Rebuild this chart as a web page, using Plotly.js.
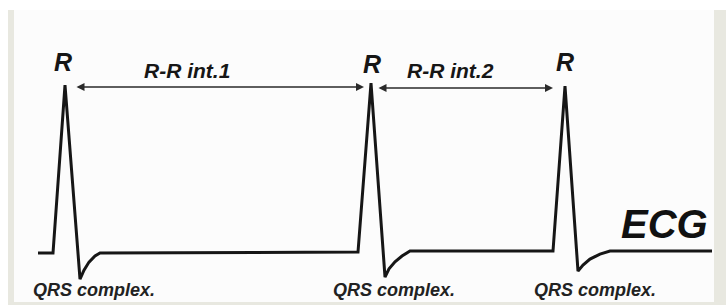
<!DOCTYPE html>
<html>
<head>
<meta charset="utf-8">
<script src="https://cdn.plot.ly/plotly-3.0.1.min.js"></script>
<style>html,body{margin:0;padding:0;background:#fff;}#chart{width:726px;height:305px;}</style>
</head>
<body>
<div id="chart"></div>
<script>
// ECG trace: time (sample units) and amplitude (relative to R peak = 1)
var ecgTime = [38, 53, 65, 80, 84, 89, 95, 100, 358, 371, 385, 389, 395, 402, 410, 553, 565, 578, 583, 590, 600, 610, 712];
var ecgAmp  = [-0.006, -0.006, 1.0, -0.162, -0.108, -0.060, -0.024, -0.006, 0.0, 1.012, -0.150, -0.100, -0.058, -0.024, 0.006, 0.006, 0.994, -0.114, -0.078, -0.042, -0.012, 0.006, 0.006];

// Peak labels
var peakLabels = ["R", "R", "R"];
var peakTime = [63, 372, 565];
var peakLabelAmp = [1.14, 1.125, 1.135];

// R-R interval arrows
var intervalLabels = ["R-R int.1", "R-R int.2"];
var intervalStart = [75, 377];
var intervalEnd = [364, 553];
var intervalAmp = [0.988, 0.982];
var intervalLabelTime = [187, 450];
var intervalLabelAmp = [1.087, 1.087];

// QRS complex labels
var qrsLabels = ["QRS complex.", "QRS complex.", "QRS complex."];
var qrsTime = [94, 394, 595];
var qrsAmp = [-0.225, -0.225, -0.225];

var ecgLabel = "ECG";
var ecgLabelTime = 664;
var ecgLabelAmp = 0.165;

var ink = "#161616";
var frame = "#e8e8e0";

var annotations = [];
for (var i = 0; i < peakLabels.length; i++) {
  annotations.push({x: peakTime[i], y: peakLabelAmp[i], xref: "x", yref: "y", text: "<b><i>" + peakLabels[i] + "</i></b>",
    showarrow: false, xanchor: "center", yanchor: "middle",
    font: {family: "Liberation Sans, Arial, sans-serif", size: 25, color: ink}});
}
for (var j = 0; j < intervalLabels.length; j++) {
  annotations.push({x: intervalEnd[j], y: intervalAmp[j], ax: intervalStart[j], ay: intervalAmp[j],
    xref: "x", yref: "y", axref: "x", ayref: "y", text: "", showarrow: true,
    arrowhead: 2, startarrowhead: 2, arrowside: "end+start", arrowsize: 1, startarrowsize: 1,
    arrowwidth: 1.6, arrowcolor: "#2a2a2a", standoff: 0, startstandoff: 0});
  annotations.push({x: intervalLabelTime[j], y: intervalLabelAmp[j], xref: "x", yref: "y",
    text: "<b><i>" + intervalLabels[j] + "</i></b>", showarrow: false, xanchor: "center", yanchor: "middle",
    font: {family: "Liberation Sans, Arial, sans-serif", size: 21, color: ink}});
}
for (var k = 0; k < qrsLabels.length; k++) {
  annotations.push({x: qrsTime[k], y: qrsAmp[k], xref: "x", yref: "y",
    text: "<b><i>" + qrsLabels[k] + "</i></b>", showarrow: false, xanchor: "center", yanchor: "middle",
    font: {family: "Liberation Sans, Arial, sans-serif", size: 18, color: "#222"}});
}
annotations.push({x: ecgLabelTime, y: ecgLabelAmp, xref: "x", yref: "y", text: "<b><i>" + ecgLabel + "</i></b>",
  showarrow: false, xanchor: "center", yanchor: "middle",
  font: {family: "Liberation Sans, Arial, sans-serif", size: 40, color: "#111"}});

var data = [{
  x: ecgTime, y: ecgAmp, type: "scatter", mode: "lines",
  line: {color: ink, width: 3, shape: "linear"}, hoverinfo: "skip"
}];

var H = 305, W = 726;
function px(p) { return p / W; }
function py(p) { return 1 - p / H; }

var layout = {
  width: W, height: H,
  margin: {l: 0, r: 0, t: 0, b: 0, pad: 0},
  paper_bgcolor: "#ffffff", plot_bgcolor: "rgba(0,0,0,0)",
  showlegend: false,
  xaxis: {range: [0, 726], visible: false, fixedrange: true},
  yaxis: {range: [-0.317, 1.509], visible: false, fixedrange: true},
  annotations: annotations,
  shapes: [
    {type: "rect", xref: "paper", yref: "paper", x0: px(14), x1: px(714), y0: py(302), y1: py(10), fillcolor: "#fcfcfc", line: {width: 0}, layer: "below"},
    {type: "rect", xref: "paper", yref: "paper", x0: px(8), x1: px(14), y0: 0, y1: py(10), fillcolor: frame, line: {width: 0}, layer: "below"},
    {type: "rect", xref: "paper", yref: "paper", x0: px(714), x1: 1, y0: 0, y1: py(10), fillcolor: frame, line: {width: 0}, layer: "below"},
    {type: "rect", xref: "paper", yref: "paper", x0: px(8), x1: 1, y0: 0, y1: py(302), fillcolor: frame, line: {width: 0}, layer: "below"}
  ]
};

Plotly.newPlot("chart", data, layout, {displayModeBar: false, staticPlot: true});
</script>
</body>
</html>
